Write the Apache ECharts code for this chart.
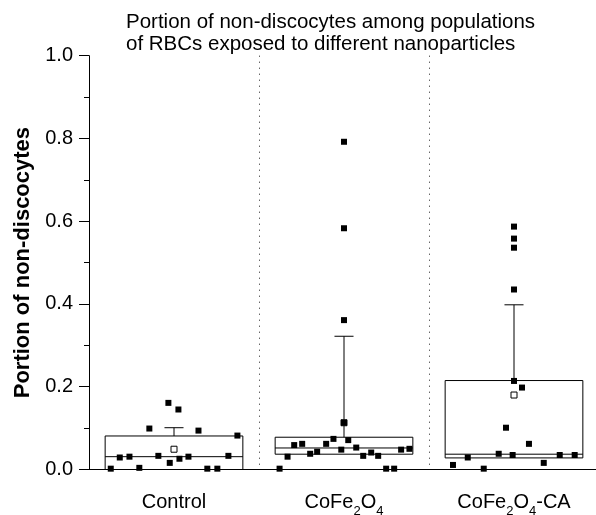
<!DOCTYPE html>
<html><head><meta charset="utf-8">
<script src="https://cdn.jsdelivr.net/npm/echarts@6/dist/echarts.min.js"></script>
<style>html,body{margin:0;padding:0;background:#fff}#c{width:596px;height:515px}</style>
</head><body><div id="c"></div>
<script>
// ---- data ----
const categories = ['Control', 'CoFe2O4', 'CoFe2O4-CA'];
const yTicks = [0, 0.2, 0.4, 0.6, 0.8, 1.0];

// box statistics (Q1, median, Q3, mean + SD whisker, mean)
const q1 = [0.0, 0.037, 0.028];
const median = [0.031, 0.052, 0.037];
const q3 = [0.081, 0.078, 0.215];
const whiskerHigh = [0.101, 0.322, 0.398];
const mean = [0.049, 0.113, 0.180];

// individual observations and their horizontal jitter (category units)
const controlValues = [0.161, 0.145, 0.099, 0.094, 0.082, 0.029, 0.031, 0.033, 0.016, 0.026, 0.031, 0.033, 0.002, 0.004, 0.002, 0.002];
const controlJitter = [-0.033, 0.026, -0.145, 0.144, 0.373, -0.319, -0.262, -0.092, -0.025, 0.032, 0.085, 0.32, -0.372, -0.204, 0.196, 0.255];
const cofeValues = [0.792, 0.583, 0.361, 0.113, 0.074, 0.071, 0.059, 0.062, 0.062, 0.048, 0.053, 0.038, 0.043, 0.033, 0.041, 0.033, 0.048, 0.050, 0.031, 0.002, 0.002, 0.002];
const cofeJitter = [0, 0, 0, 0, -0.062, 0.025, -0.293, -0.246, -0.105, -0.016, 0.072, -0.199, -0.158, 0.113, 0.16, 0.201, 0.336, 0.385, -0.332, -0.379, 0.248, 0.295];
const caValues = [0.587, 0.558, 0.536, 0.435, 0.214, 0.198, 0.101, 0.062, 0.038, 0.035, 0.035, 0.035, 0.029, 0.011, 0.016, 0.002];
const caJitter = [0, 0, 0, 0, 0, 0.047, -0.047, 0.088, -0.09, -0.008, 0.269, 0.357, -0.272, -0.359, 0.175, -0.178];

// ---- chart ----
const FONT = "'Liberation Sans', Arial, Helvetica, sans-serif";
const groups = [[controlValues, controlJitter], [cofeValues, cofeJitter], [caValues, caJitter]];
const pointData = [];
groups.forEach(([vals, jit], i) => vals.forEach((v, k) => pointData.push([i + jit[k], v])));
const boxData = categories.map((c, i) => [i, q1[i], median[i], q3[i], whiskerHigh[i]]);
const meanData = mean.map((m, i) => [i, m]);

function renderBox(params, api) {
  const i = api.value(0);
  const hw = 0.405, cw = 0.056;
  const lt = api.coord([i - hw, api.value(3)]);
  const rb = api.coord([i + hw, api.value(1)]);
  const mL = api.coord([i - hw, api.value(2)]);
  const mR = api.coord([i + hw, api.value(2)]);
  const wTop = api.coord([i, api.value(4)]);
  const wBot = api.coord([i, api.value(3)]);
  const cL = api.coord([i - cw, api.value(4)]);
  const cR = api.coord([i + cw, api.value(4)]);
  const st = { stroke: '#000', lineWidth: 1, fill: null };
  return { type: 'group', children: [
    { type: 'rect', shape: { x: lt[0], y: lt[1], width: rb[0] - lt[0], height: rb[1] - lt[1] }, style: { stroke: '#000', lineWidth: 1, fill: null } },
    { type: 'line', shape: { x1: mL[0], y1: mL[1], x2: mR[0], y2: mR[1] }, style: st },
    { type: 'line', shape: { x1: wBot[0], y1: wBot[1], x2: wTop[0], y2: wTop[1] }, style: st },
    { type: 'line', shape: { x1: cL[0], y1: cL[1], x2: cR[0], y2: cR[1] }, style: st }
  ]};
}

function catLabel(v) {
  return v.split(/(\d)/).filter(Boolean).map(t => /^\d$/.test(t) ? '{s|' + t + '}' : '{n|' + t + '}').join('');
}

const chart = echarts.init(document.getElementById('c'), null, { renderer: 'canvas' });
chart.setOption({
  animation: false,
  backgroundColor: '#fff',
  title: {
    text: 'Portion of non-discocytes among populations\nof RBCs exposed to different nanoparticles',
    left: 126, top: 11, padding: 0,
    textStyle: { fontFamily: FONT, fontSize: 20.5, fontWeight: 'normal', color: '#000', lineHeight: 22 }
  },
  grid: { left: 89, right: -3, top: 55.7, bottom: 45.5, containLabel: false, outerBoundsMode: 'none' },
  xAxis: [
    {
      type: 'category', data: categories, position: 'bottom', boundaryGap: true,
      axisLine: { show: true, onZero: false, lineStyle: { color: '#000', width: 1 } },
      axisTick: { show: false },
      axisLabel: {
        margin: 23, interval: 0, formatter: catLabel,
        rich: {
          n: { fontFamily: FONT, fontSize: 20, lineHeight: 20, verticalAlign: 'top', color: '#000' },
          s: { fontFamily: FONT, fontSize: 13, lineHeight: 13, padding: [12, 0, 0, 0], verticalAlign: 'top', color: '#000' }
        }
      },
      splitLine: { show: true, showMinLine: false, showMaxLine: false, lineStyle: { type: [1, 5], color: '#222', width: 1 } }
    },
    { type: 'value', min: -0.5, max: 2.5, show: false, position: 'bottom' }
  ],
  yAxis: {
    type: 'value', min: yTicks[0], max: yTicks[yTicks.length - 1], interval: 0.2,
    position: 'left',
    name: 'Portion of non-discocytes', nameLocation: 'middle', nameGap: 51,
    nameTextStyle: { fontFamily: FONT, fontSize: 22, fontWeight: 'bold', color: '#000' },
    axisLine: { show: true, onZero: false, lineStyle: { color: '#000', width: 1 } },
    axisTick: { show: true, inside: false, length: 10, lineStyle: { color: '#000' } },
    minorTick: { show: true, splitNumber: 2, length: 5, lineStyle: { color: '#000' } },
    axisLabel: { fontFamily: FONT, fontSize: 20, color: '#000', margin: 16, formatter: v => v.toFixed(1) },
    splitLine: { show: false }
  },
  series: [
    { type: 'custom', xAxisIndex: 1, yAxisIndex: 0, data: boxData, renderItem: renderBox, z: 2, silent: true },
    { type: 'scatter', xAxisIndex: 1, yAxisIndex: 0, data: meanData, symbol: 'rect', symbolSize: 6,
      itemStyle: { color: '#fff', borderColor: '#000', borderWidth: 1, opacity: 1 }, z: 3, silent: true },
    { type: 'scatter', xAxisIndex: 1, yAxisIndex: 0, data: pointData, symbol: 'rect', symbolSize: 6,
      itemStyle: { color: '#000', opacity: 1 }, z: 4, silent: true }
  ]
});
</script></body></html>
